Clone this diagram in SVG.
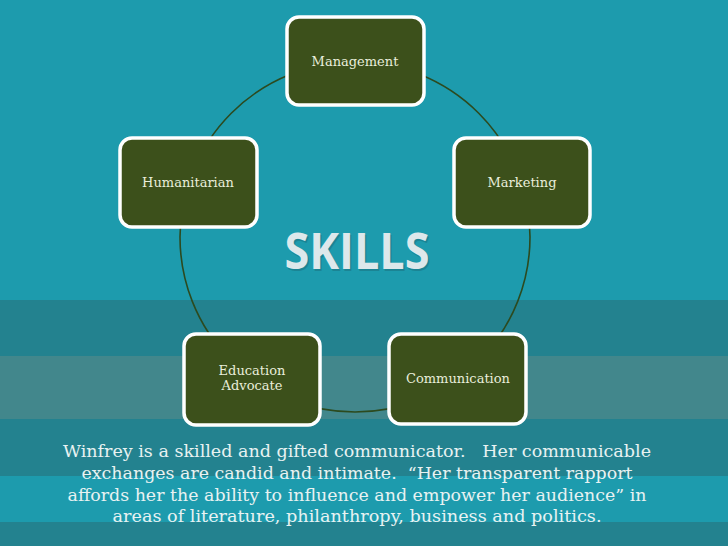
<svg xmlns="http://www.w3.org/2000/svg" width="728" height="546" viewBox="0 0 728 546">
<style>
.box{fill:#3c501b;stroke:#ffffff;stroke-width:3.5}
.lbl{font-family:"DejaVu Serif","Liberation Serif",serif;font-size:13px;fill:#e9eedb;text-anchor:middle}
.para{font-family:"DejaVu Serif","Liberation Serif",serif;font-size:16.5px;fill:#e8f2f2;text-anchor:middle;white-space:pre}
.ring{fill:none;stroke:#2c4a1f;stroke-width:1.6}
</style>
<g id="background">
<rect x="0" y="0" width="728" height="546" fill="#1d9bad"/>
<rect x="0" y="300" width="728" height="56" fill="#23828f"/>
<rect x="0" y="356" width="728" height="63" fill="#42878c"/>
<rect x="0" y="419" width="728" height="57" fill="#23828f"/>
<rect x="0" y="476" width="728" height="46" fill="#1d9bad"/>
<rect x="0" y="522" width="728" height="24" fill="#23828f"/>
</g>
<g id="connectors">
<circle class="ring" cx="355" cy="237" r="175"/>
</g>
<g id="title">
<text x="357" y="269" font-family="'Open Sans','DejaVu Sans',sans-serif" font-weight="bold" font-size="50" fill="#1a6f7c" opacity="0.5" text-anchor="middle" textLength="145" lengthAdjust="spacingAndGlyphs" transform="translate(1.5,1.5)">SKILLS</text>
<text x="357" y="269" font-family="'Open Sans','DejaVu Sans',sans-serif" font-weight="bold" font-size="50" fill="#dde8eb" text-anchor="middle" textLength="145" lengthAdjust="spacingAndGlyphs">SKILLS</text>
</g>
<g id="management">
<rect class="box" x="287" y="17" width="137" height="88" rx="12"/>
<text class="lbl" x="355" y="66">Management</text>
</g>
<g id="marketing">
<rect class="box" x="454" y="138" width="136" height="89" rx="12"/>
<text class="lbl" x="522" y="187">Marketing</text>
</g>
<g id="communication">
<rect class="box" x="389" y="334" width="137" height="90" rx="12"/>
<text class="lbl" x="458" y="383">Communication</text>
</g>
<g id="education-advocate">
<rect class="box" x="184" y="334" width="136" height="91" rx="12"/>
<text class="lbl" x="252" y="375">Education</text>
<text class="lbl" x="252" y="390">Advocate</text>
</g>
<g id="humanitarian">
<rect class="box" x="120" y="138" width="137" height="89" rx="12"/>
<text class="lbl" x="188" y="187">Humanitarian</text>
</g>
<g id="description">
<text class="para" x="357" y="457" textLength="588" lengthAdjust="spacingAndGlyphs">Winfrey is a skilled and gifted communicator.   Her communicable</text>
<text class="para" x="357" y="479" textLength="551" lengthAdjust="spacingAndGlyphs">exchanges are candid and intimate.  “Her transparent rapport</text>
<text class="para" x="357" y="501" textLength="579" lengthAdjust="spacingAndGlyphs">affords her the ability to influence and empower her audience” in</text>
<text class="para" x="357" y="522" textLength="489" lengthAdjust="spacingAndGlyphs">areas of literature, philanthropy, business and politics.</text>
</g>
</svg>
